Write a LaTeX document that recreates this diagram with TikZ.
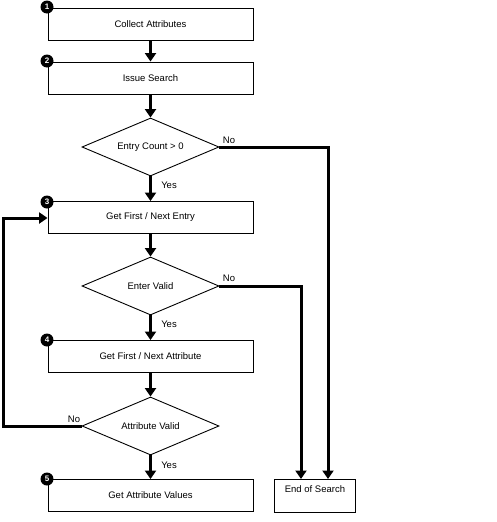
\documentclass[tikz,border=0pt]{standalone}
\usepackage{fontspec}
\setmainfont{Liberation Sans}
\usetikzlibrary{shapes.geometric,arrows.meta}
\begin{document}
\begin{tikzpicture}[x=1pt,y=-1pt,
  every node/.style={font=\fontsize{9.5}{11}\selectfont},
  stepbox/.style={draw,line width=0.9pt,minimum width=205pt,minimum height=32pt,inner sep=0pt},
  endbox/.style={draw,line width=0.9pt,minimum width=81pt,minimum height=33pt,inner sep=0pt,text height=7pt,text depth=13pt},
  decision/.style={draw,line width=0.9pt,diamond,aspect=2.35,minimum width=137pt,minimum height=58pt,inner sep=0pt},
  badge/.style={circle,fill=black,text=white,inner sep=0pt,minimum size=13pt,font=\fontsize{8}{8}\bfseries\selectfont},
  flow/.style={line width=3pt,-{Triangle[length=8.5pt,width=11pt]}},
  lbl/.style={inner sep=1pt}]
\useasboundingbox (0,0) rectangle (496,522);
\node[stepbox] (b1) at (150.5,24) {Collect Attributes};
\node[stepbox] (b2) at (150.5,78) {Issue Search};
\node[decision] (d1) at (150.5,147) {Entry Count > 0};
\node[stepbox] (b3) at (150.5,217.5) {Get First / Next Entry};
\node[decision] (d2) at (150.5,286) {Enter Valid};
\node[stepbox] (b4) at (150.5,356.5) {Get First / Next Attribute};
\node[decision] (d3) at (150.5,426) {Attribute Valid};
\node[stepbox] (b5) at (150.5,495.5) {Get Attribute Values};
\node[endbox,anchor=north west] (e) at (274,479) {End of Search};
\node[badge] (n1) at (47,7) {1};
\node[badge] (n2) at (47,61) {2};
\node[badge] (n3) at (47,202) {3};
\node[badge] (n4) at (47,340) {4};
\node[badge] (n5) at (47,479) {5};
\coordinate (r1) at (328,147);
\coordinate (r2) at (301,286);
\coordinate (l1) at (3,426);
\coordinate (l2) at (3,218);
\draw[flow] (b1.south) -- (b2.north);
\draw[flow] (b2.south) -- (d1.north);
\draw[flow] (d1.south) -- (b3.north);
\draw[flow] (b3.south) -- (d2.north);
\draw[flow] (d2.south) -- (b4.north);
\draw[flow] (b4.south) -- (d3.north);
\draw[flow] (d3.south) -- (b5.north);
\draw[flow] (d1.east) -- (r1) -- (r1 |- e.north);
\draw[flow] (d2.east) -- (r2) -- (r2 |- e.north);
\draw[flow] (d3.west) -- (l1) -- (l2) -- (l2 -| b3.west);
\node[lbl] at (229,140) {No};
\node[lbl] at (169,185) {Yes};
\node[lbl] at (229,278) {No};
\node[lbl] at (169,324) {Yes};
\node[lbl] at (74,419) {No};
\node[lbl] at (169,465) {Yes};
\end{tikzpicture}
\end{document}
